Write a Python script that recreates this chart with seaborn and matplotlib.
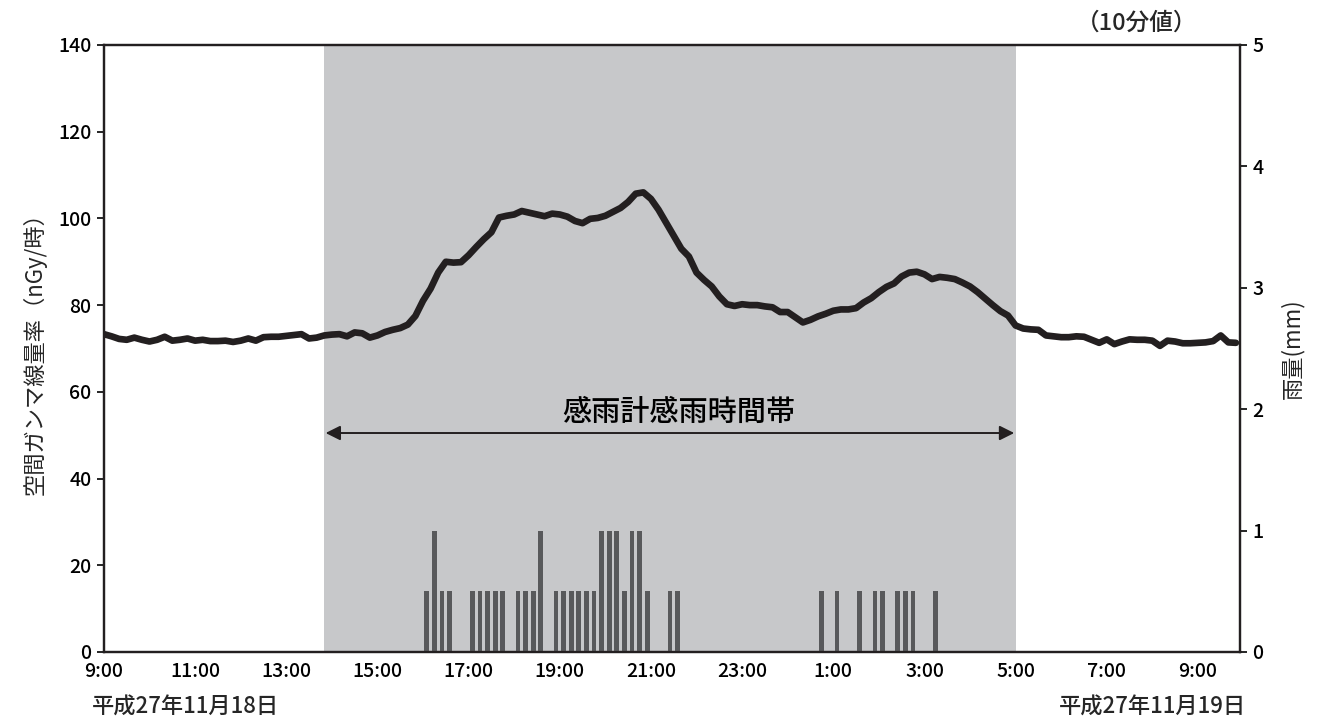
import numpy as np
import pandas as pd
import matplotlib
matplotlib.use("Agg")
import matplotlib.pyplot as plt
import seaborn as sns

# 10-minute gamma dose rate (nGy/h), 2015-11-18 09:00 .. 2015-11-19 09:50
gamma = [
    73.3, 72.8, 72.2, 72.0, 72.5, 72.0, 71.6, 72.0, 72.7, 71.8,
    72.0, 72.3, 71.8, 72.0, 71.7, 71.7, 71.8, 71.5, 71.8, 72.3,
    71.8, 72.6, 72.7, 72.7, 72.9, 73.1, 73.3, 72.3, 72.5, 73.0,
    73.2, 73.3, 72.8, 73.7, 73.5, 72.5, 73.0, 73.8, 74.3, 74.7,
    75.5, 77.5, 81.0, 83.8, 87.5, 90.0, 89.8, 89.9, 91.5, 93.4,
    95.2, 96.8, 100.2, 100.6, 100.9, 101.7, 101.3, 100.9, 100.5, 101.1,
    100.9, 100.4, 99.4, 98.9, 99.9, 100.1, 100.6, 101.5, 102.4, 103.8,
    105.7, 106.0, 104.5, 102.0, 99.0, 96.0, 93.0, 91.2, 87.5, 85.8,
    84.3, 82.0, 80.2, 79.8, 80.2, 80.0, 80.0, 79.7, 79.5, 78.4,
    78.4, 77.2, 76.0, 76.6, 77.4, 78.0, 78.7, 79.0, 79.0, 79.3,
    80.6, 81.6, 83.0, 84.2, 85.0, 86.6, 87.5, 87.7, 87.1, 86.0,
    86.5, 86.3, 86.0, 85.2, 84.3, 83.0, 81.5, 80.0, 78.6, 77.6,
    75.3, 74.6, 74.4, 74.3, 73.0, 72.8, 72.6, 72.6, 72.8, 72.7,
    72.0, 71.3, 72.1, 71.0, 71.6, 72.1, 72.0, 72.0, 71.8, 70.6,
    71.8, 71.6, 71.2, 71.2, 71.3, 71.4, 71.7, 73.0, 71.4, 71.3,
]

# 10-minute rainfall (mm), start of each interval
rain_times = [
    "2015-11-18 16:00", "2015-11-18 16:10", "2015-11-18 16:20", "2015-11-18 16:30",
    "2015-11-18 17:00", "2015-11-18 17:10", "2015-11-18 17:20", "2015-11-18 17:30",
    "2015-11-18 17:40", "2015-11-18 18:00", "2015-11-18 18:10", "2015-11-18 18:20",
    "2015-11-18 18:30", "2015-11-18 18:50", "2015-11-18 19:00", "2015-11-18 19:10",
    "2015-11-18 19:20", "2015-11-18 19:30", "2015-11-18 19:40", "2015-11-18 19:50",
    "2015-11-18 20:00", "2015-11-18 20:10", "2015-11-18 20:20", "2015-11-18 20:30",
    "2015-11-18 20:40", "2015-11-18 20:50", "2015-11-18 21:20", "2015-11-18 21:30",
    "2015-11-19 00:40", "2015-11-19 01:00", "2015-11-19 01:30", "2015-11-19 01:50",
    "2015-11-19 02:00", "2015-11-19 02:20", "2015-11-19 02:30", "2015-11-19 02:40",
    "2015-11-19 03:10",
]
rain_mm = [
    0.5, 1.0, 0.5, 0.5,
    0.5, 0.5, 0.5, 0.5,
    0.5, 0.5, 0.5, 0.5,
    1.0, 0.5, 0.5, 0.5,
    0.5, 0.5, 0.5, 1.0,
    1.0, 1.0, 0.5, 1.0,
    1.0, 0.5, 0.5, 0.5,
    0.5, 0.5, 0.5, 0.5,
    0.5, 0.5, 0.5, 0.5,
    0.5,
]

rain_period = ("2015-11-18 13:50", "2015-11-19 05:00")

start = pd.Timestamp("2015-11-18 09:00")
hour = pd.Timedelta(hours=1)

df = pd.DataFrame({
    "time": pd.date_range(start, periods=len(gamma), freq="10min"),
    "gamma": gamma,
})
df["h"] = (df["time"] - start) / hour

rain = pd.DataFrame({"time": pd.to_datetime(rain_times), "mm": rain_mm})
rain["h"] = (rain["time"] - start) / hour + 5 / 60  # centre of the interval

p0 = (pd.Timestamp(rain_period[0]) - start) / hour
p1 = (pd.Timestamp(rain_period[1]) - start) / hour

sns.set_theme(style="white")
plt.rcParams["font.family"] = ["Noto Sans CJK JP", "DejaVu Sans"]
plt.rcParams["font.weight"] = "medium"

ink = "#231f20"
fig = plt.figure(figsize=(13.19, 7.17), dpi=100)
ax = fig.add_axes([0.0788, 0.0907, 0.8612, 0.8466])
ax2 = ax.twinx()

ax.axvspan(p0, p1, color="#c7c8ca", lw=0, zorder=0)
sns.lineplot(data=df, x="h", y="gamma", ax=ax, color=ink, lw=4.8, zorder=3)

ax2.bar(rain["h"], rain["mm"], width=0.105, color="#58595b", lw=0)

ax.set_xlim(0, 24.92)
ax.set_ylim(0, 140)
ax2.set_ylim(0, 5)
ax.set_yticks(range(0, 141, 20))
ax2.set_yticks(range(0, 6))

hours = list(range(0, 25))
ax.set_xticks(hours)
ax.set_xticklabels([f"{(9 + h) % 24}:00" if h % 2 == 0 else "" for h in hours])

ax.set_xlabel("")
ax.set_ylabel("空間ガンマ線量率（nGy/時）", fontsize=16, labelpad=8)
ax2.set_ylabel("雨量(mm)", fontsize=16, labelpad=12)

for a in (ax, ax2):
    a.tick_params(axis="both", direction="out", length=5, width=1.2,
                  colors="black", labelsize=14, pad=4)
    for s in a.spines.values():
        s.set_color(ink)
        s.set_linewidth(1.6)
ax.tick_params(axis="x", pad=2)
ax2.patch.set_visible(False)

ax.annotate("", xy=(p0, 50.5), xytext=(p1, 50.5),
            arrowprops=dict(arrowstyle="<|-|>", color=ink, lw=1.4,
                            mutation_scale=22, shrinkA=1, shrinkB=1))
ax.text(12.6, 55.3, "感雨計感雨時間帯", ha="center", va="center", fontsize=21, color="black")

fig.text(0.070, 0.014, "平成27年11月18日", ha="left", va="center", fontsize=16)
fig.text(0.945, 0.014, "平成27年11月19日", ha="right", va="center", fontsize=16)
fig.text(0.862, 0.967, "（10分値）", ha="center", va="center", fontsize=17)

fig.savefig("out.png", dpi=100)
